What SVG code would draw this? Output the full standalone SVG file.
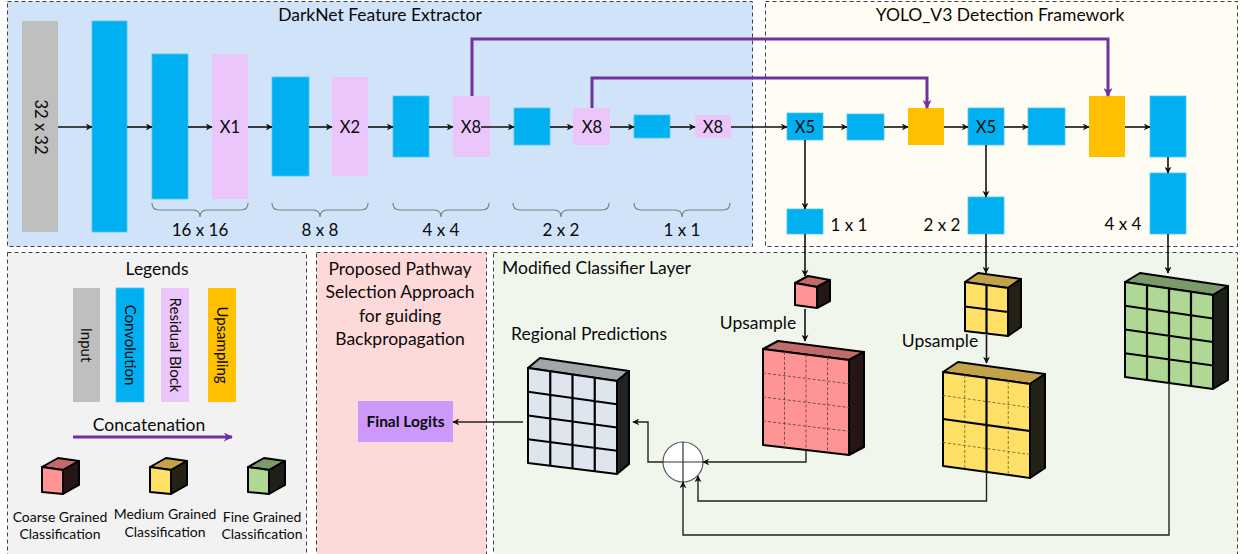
<svg xmlns="http://www.w3.org/2000/svg" width="1245" height="554" viewBox="0 0 1245 554">
<defs>
<style>
text{font-family:Lato,"Open Sans","Liberation Sans",sans-serif;fill:#0a0a0a;}
.panel{stroke:#404040;stroke-width:1;stroke-dasharray:4 3;}
.conv{fill:#00b0f0;stroke:#4fc6f2;stroke-width:0.8;}
.res{fill:#ebc6fb;}
.inp{fill:#bfbfbf;}
.ups{fill:#ffc000;}
.lbl{font-size:17.5px;text-anchor:middle;}
.blk{font-size:16.5px;text-anchor:middle;}
.dim{font-size:17px;text-anchor:middle;}
.brace{fill:none;stroke:#7f7f7f;stroke-width:1.2;}
.arr{fill:none;stroke:#111;stroke-width:1.6;marker-end:url(#ah);}
.thinA{fill:none;stroke:#222;stroke-width:1.4;marker-end:url(#ah);}
.pur{fill:none;stroke:#7030a0;stroke-width:3;marker-end:url(#ph);}
.edge{stroke:#000;stroke-width:2;stroke-linejoin:round;}
.g{stroke:#000;stroke-width:2.2;fill:none;}
.gd{stroke:#6a4a40;stroke-width:0.9;stroke-dasharray:3 2;fill:none;}
.sm{font-size:14px;text-anchor:middle;}
.vt{font-size:15px;text-anchor:middle;}
</style>
<marker id="ah" viewBox="0 0 10 10" refX="9" refY="5" markerWidth="7" markerHeight="7" markerUnits="userSpaceOnUse" orient="auto"><path d="M0,0 L10,5 L0,10 L3,5 z" fill="#111"/></marker>
<marker id="ph" viewBox="0 0 10 10" refX="9" refY="5" markerWidth="9" markerHeight="9" markerUnits="userSpaceOnUse" orient="auto"><path d="M0,0 L10,5 L0,10 L3,5 z" fill="#7030a0"/></marker>
</defs>
<rect width="1245" height="554" fill="#ffffff"/>

<!-- Panels -->
<g id="panel-darknet">
<rect class="panel" x="7.5" y="1.5" width="745" height="245" fill="#d0e3f9"/>
<text class="lbl" x="380" y="21">DarkNet Feature Extractor</text>
</g>
<g id="panel-yolo">
<rect class="panel" x="765.5" y="1.5" width="472" height="245" fill="#fefcf3"/>
<text class="lbl" x="1000" y="21">YOLO_V3 Detection Framework</text>
</g>
<g id="panel-legends">
<rect class="panel" x="7.5" y="252.5" width="299" height="305" fill="#f2f2f2"/>
<text class="lbl" x="157" y="275">Legends</text>
</g>
<g id="panel-pathway">
<rect class="panel" x="316.5" y="252.5" width="170" height="305" fill="#fed9d9"/>
<text class="lbl" x="400" y="275">Proposed Pathway</text>
<text class="lbl" x="400" y="298">Selection Approach</text>
<text class="lbl" x="400" y="322">for guiding</text>
<text class="lbl" x="400" y="345">Backpropagation</text>
</g>
<g id="panel-classifier">
<rect class="panel" x="493.5" y="252.5" width="744" height="305" fill="#f1f6ed"/>
<text x="502" y="274" style="font-size:17.5px">Modified Classifier Layer</text>
</g>

<!-- DarkNet nodes -->
<g id="input"><rect class="inp" x="22" y="21" width="36" height="211"/><text class="blk" transform="translate(34.5,127) rotate(90)" x="0" y="0">32 x 32</text></g>
<g id="conv1"><rect class="conv" x="92" y="21" width="35" height="211"/></g>
<g id="conv2"><rect class="conv" x="152" y="54" width="36" height="145"/></g>
<g id="res1"><rect class="res" x="212" y="54" width="36" height="145"/><text class="blk" x="230" y="133">X1</text></g>
<g id="conv3"><rect class="conv" x="272" y="77" width="37" height="99"/></g>
<g id="res2"><rect class="res" x="332" y="77" width="36" height="99"/><text class="blk" x="350" y="133">X2</text></g>
<g id="conv4"><rect class="conv" x="393" y="96" width="36" height="61"/></g>
<g id="res3"><rect class="res" x="453" y="96" width="37" height="61"/><text class="blk" x="471" y="133">X8</text></g>
<g id="conv5"><rect class="conv" x="514" y="108" width="36" height="37"/></g>
<g id="res4"><rect class="res" x="573" y="108" width="37" height="37"/><text class="blk" x="592" y="133">X8</text></g>
<g id="conv6"><rect class="conv" x="634" y="115" width="36" height="23"/></g>
<g id="res5"><rect class="res" x="695" y="115" width="36" height="23"/><text class="blk" x="713" y="133">X8</text></g>

<!-- Braces -->
<g id="braces">
<path class="brace" d="M152,203 q0,7 7,7 h34 q7,0 7,7 q0,-7 7,-7 h34 q7,0 7,-7"/>
<text class="dim" x="200" y="236">16 x 16</text>
<path class="brace" d="M272,203 q0,7 7,7 h34 q7,0 7,7 q0,-7 7,-7 h34 q7,0 7,-7"/>
<text class="dim" x="320" y="236">8 x 8</text>
<path class="brace" d="M393,203 q0,7 7,7 h34 q7,0 7,7 q0,-7 7,-7 h34 q7,0 7,-7"/>
<text class="dim" x="441" y="236">4 x 4</text>
<path class="brace" d="M513,203 q0,7 7,7 h34 q7,0 7,7 q0,-7 7,-7 h34 q7,0 7,-7"/>
<text class="dim" x="561" y="236">2 x 2</text>
<path class="brace" d="M634,203 q0,7 7,7 h34 q7,0 7,7 q0,-7 7,-7 h34 q7,0 7,-7"/>
<text class="dim" x="682" y="236">1 x 1</text>
</g>

<!-- YOLO nodes -->
<g id="y-x5a"><rect class="conv" x="787" y="113" width="36" height="27"/><text class="blk" x="805" y="133">X5</text></g>
<g id="y-conv1"><rect class="conv" x="847" y="114" width="37" height="26"/></g>
<g id="y-up1"><rect class="ups" x="908" y="108" width="36" height="37"/></g>
<g id="y-x5b"><rect class="conv" x="968" y="108" width="36" height="37"/><text class="blk" x="986" y="133">X5</text></g>
<g id="y-conv2"><rect class="conv" x="1028" y="108" width="37" height="37"/></g>
<g id="y-up2"><rect class="ups" x="1089" y="96" width="36" height="61"/></g>
<g id="y-conv3"><rect class="conv" x="1150" y="96" width="36" height="61"/></g>
<g id="y-out3"><rect class="conv" x="1150" y="173" width="36" height="61"/><text class="dim" x="1123" y="230">4 x 4</text></g>
<g id="y-out1"><rect class="conv" x="787" y="209" width="36" height="25"/><text class="dim" x="849" y="231">1 x 1</text></g>
<g id="y-out2"><rect class="conv" x="968" y="197" width="36" height="37"/><text class="dim" x="942" y="231">2 x 2</text></g>

<!-- Classifier nodes -->
<g id="cube-coarse-small">
<polygon class="edge" fill="#c26a6a" points="795,283 808,276 830,280 817,287"/>
<polygon class="edge" fill="#241616" points="817,287 830,280 830,301 817,308"/>
<polygon class="edge" fill="#ff9494" points="795,283 817,287 817,308 795,305"/>
</g>
<g id="cube-coarse-big">
<polygon class="edge" fill="#c26a6a" points="763,349 778,341 864,352 849,360"/>
<polygon class="edge" fill="#241616" points="849,360 864,352 864,447 849,455"/>
<polygon class="edge" fill="#ff9494" points="763,349 849,360 849,455 763,445"/>
<path class="gd" d="M784.5,351.75 L784.5,447.5 M806,354.5 L806,450 M827.5,357.25 L827.5,452.5 M763,373 L849,383.75 M763,397 L849,407.5 M763,421 L849,431.25"/>
</g>
<g id="cube-medium-small">
<polygon class="edge" fill="#c4a24a" points="965,282 978,273 1021,279 1008,288"/>
<polygon class="edge" fill="#242214" points="1008,288 1021,279 1021,327 1008,336"/>
<polygon class="edge" fill="#ffe066" points="965,282 1008,288 1008,336 965,331"/>
<path class="g" d="M986.5,285 L986.5,333.5 M965,306.5 L1008,312"/>
</g>
<g id="cube-medium-big">
<polygon class="edge" fill="#c4a24a" points="943,372 958,362 1045,374 1030,384"/>
<polygon class="edge" fill="#242214" points="1030,384 1045,374 1045,468 1030,478"/>
<polygon class="edge" fill="#ffe066" points="943,372 1030,384 1030,478 943,466"/>
<path class="gd" style="stroke:#7a6a30" d="M964.75,375 L964.75,469 M1008.25,381 L1008.25,475 M943,395.5 L1030,407.5 M943,442.5 L1030,454.5"/>
<path class="g" d="M986.5,378 L986.5,472 M943,419 L1030,431"/>
</g>
<g id="cube-fine">
<polygon class="edge" fill="#7a9a6a" points="1125,282 1140,273 1228,286 1213,295"/>
<polygon class="edge" fill="#1c2018" points="1213,295 1228,286 1228,380 1213,389"/>
<polygon class="edge" fill="#aed894" points="1125,282 1213,295 1213,389 1125,377"/>
<path class="g" d="M1147,285.25 L1147,380 M1169,288.5 L1169,383 M1191,291.75 L1191,386 M1125,305.75 L1213,318.5 M1125,329.5 L1213,342 M1125,353.25 L1213,365.5"/>
</g>
<g id="regional-predictions">
<polygon class="edge" fill="#a2a6ab" points="528,368 540,358 629,371 617,381"/>
<polygon class="edge" fill="#222222" points="617,381 629,371 629,464 617,474"/>
<polygon class="edge" fill="#dfe5ef" points="528,368 617,381 617,474 528,463"/>
<path class="g" d="M550.25,371.25 L550.25,465.75 M572.5,374.5 L572.5,468.5 M594.75,377.75 L594.75,471.25 M528,391.75 L617,404.25 M528,415.5 L617,427.5 M528,439.25 L617,450.75"/>
<text class="lbl" x="589" y="340">Regional Predictions</text>
</g>
<g id="sum-node">
<circle cx="683" cy="462" r="20" fill="#ffffff" stroke="#555" stroke-width="1.2"/>
<path d="M683,442 V482 M663,462 H703" stroke="#333" stroke-width="1.2"/>
</g>
<g id="final-logits">
<rect x="358" y="401" width="95" height="41" fill="#cc99fb"/>
<text x="405.5" y="427" style="font-size:15.5px;font-weight:bold;text-anchor:middle">Final Logits</text>
</g>
<g id="upsample-labels">
<text x="758" y="329" style="font-size:17.5px;text-anchor:middle">Upsample</text>
<text x="940" y="347" style="font-size:17.5px;text-anchor:middle">Upsample</text>
</g>

<!-- Legends content -->
<g id="legend-items">
<rect class="inp" x="73" y="288" width="27" height="114"/>
<text class="vt" transform="translate(81,345) rotate(90)">Input</text>
<rect class="conv" x="116" y="288" width="28" height="114"/>
<text class="vt" transform="translate(125,345) rotate(90)">Convolution</text>
<rect class="res" x="161" y="288" width="28" height="114"/>
<text class="vt" transform="translate(170,345) rotate(90)">Residual Block</text>
<rect class="ups" x="208" y="288" width="28" height="114"/>
<text class="vt" transform="translate(217,345) rotate(90)">Upsampling</text>
<text class="lbl" x="149" y="431">Concatenation</text>
<path class="pur" d="M73,437 H232"/>
<polygon class="edge" fill="#c26a6a" points="42,467 58,458 79,461 63,470"/>
<polygon class="edge" fill="#241616" points="63,470 79,461 79,485 63,494"/>
<polygon class="edge" fill="#ff9494" points="42,467 63,470 63,494 42,492"/>
<polygon class="edge" fill="#c4a24a" points="150,467 166,458 187,461 171,470"/>
<polygon class="edge" fill="#242214" points="171,470 187,461 187,485 171,494"/>
<polygon class="edge" fill="#ffe066" points="150,467 171,470 171,494 150,492"/>
<polygon class="edge" fill="#7a9a6a" points="248,467 264,458 285,461 269,470"/>
<polygon class="edge" fill="#1c2018" points="269,470 285,461 285,485 269,494"/>
<polygon class="edge" fill="#aed894" points="248,467 269,470 269,494 248,492"/>
<text class="sm" x="60" y="522">Coarse Grained</text>
<text class="sm" x="60" y="539">Classification</text>
<text class="sm" x="165" y="519">Medium Grained</text>
<text class="sm" x="165" y="537">Classification</text>
<text class="sm" x="262" y="522">Fine Grained</text>
<text class="sm" x="262" y="539">Classification</text>
</g>

<!-- Connectors -->
<g id="connectors">
<path class="arr" d="M58,127 H92"/>
<path class="arr" d="M127,127 H152"/>
<path class="arr" d="M188,127 H212"/>
<path class="arr" d="M248,127 H272"/>
<path class="arr" d="M309,127 H332"/>
<path class="arr" d="M368,127 H393"/>
<path class="arr" d="M429,127 H453"/>
<path class="arr" d="M481,127 H514"/>
<path class="arr" d="M550,127 H573"/>
<path class="arr" d="M610,127 H634"/>
<path class="arr" d="M670,127 H695"/>
<path class="arr" d="M731,127 H787"/>
<path class="arr" d="M823,127 H847"/>
<path class="arr" d="M884,127 H908"/>
<path class="arr" d="M944,127 H968"/>
<path class="arr" d="M1004,127 H1028"/>
<path class="arr" d="M1065,127 H1089"/>
<path class="arr" d="M1125,127 H1150"/>
<path class="arr" d="M805,140 V209"/>
<path class="arr" d="M986,145 V197"/>
<path class="arr" d="M1168,157 V173"/>
<path class="pur" d="M472,96 V39 H1108 V96"/>
<path class="pur" d="M592,108 V78 H927 V108"/>
<path class="arr" d="M805,234 V276"/>
<path class="arr" d="M805,309 V341"/>
<path class="arr" d="M986,234 V273"/>
<path class="arr" d="M986.5,335 V363"/>
<path class="arr" d="M1168,234 V273"/>
<path class="thinA" d="M806,450 V462 H703"/>
<path class="thinA" d="M986.5,472 V501 H698 V476"/>
<path class="thinA" d="M1169,383 V535 H683 V482"/>
<path class="thinA" d="M663,462 H648 V422 H633"/>
<path class="thinA" d="M523,422 H453"/>
</g>
</svg>
